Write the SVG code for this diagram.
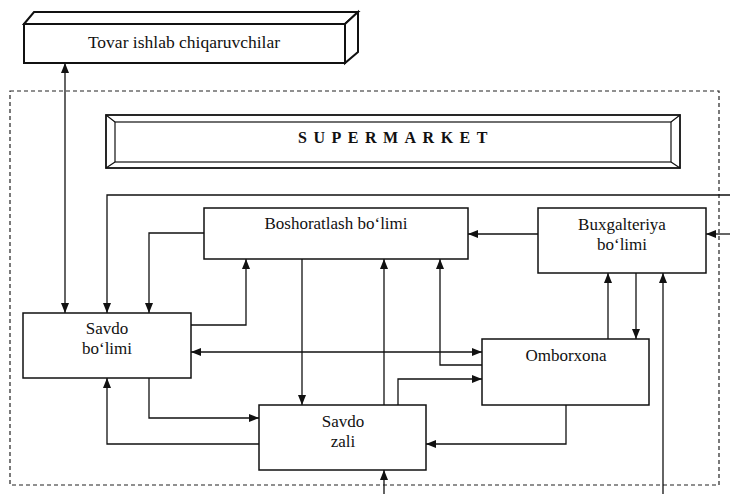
<svg xmlns="http://www.w3.org/2000/svg" width="730" height="494" viewBox="0 0 730 494">
<style>
  .box{fill:#fff;stroke:#111;stroke-width:1.5}
  .b3{fill:#fff;stroke:#111;stroke-width:2;stroke-linejoin:miter}
  .t{font-family:"Liberation Serif","Times New Roman",serif;font-size:17px;fill:#111;text-anchor:middle}
  .tv{font-size:17.5px}
  .sm{font-family:"Liberation Serif","Times New Roman",serif;font-size:16px;font-weight:bold;fill:#111;letter-spacing:6.5px}
  .c{fill:none;stroke:#111;stroke-width:1.3}
  .d{fill:none;stroke:#222;stroke-width:1.2;stroke-dasharray:4,3}
</style>
<defs>
  <marker id="ah" viewBox="0 0 10 8" refX="10" refY="4" markerWidth="10" markerHeight="8" markerUnits="userSpaceOnUse" orient="auto-start-reverse">
    <path d="M0,0 L10,4 L0,8 z" fill="#111"/>
  </marker>
</defs>
<rect width="730" height="494" fill="#fff"/>
<rect class="d" x="10" y="91" width="709" height="394"/>

<g id="tovar">
  <polygon class="b3" points="24,24 34,12 358,12 345,24"/>
  <polygon class="b3" points="345,24 358,12 358,52 345,63"/>
  <rect class="b3" x="24" y="24" width="321" height="39"/>
  <text class="t tv" x="184" y="48">Tovar ishlab chiqaruvchilar</text>
</g>

<g id="supermarket">
  <rect fill="#fff" stroke="#111" stroke-width="1.8" x="106" y="115" width="574" height="53"/>
  <rect fill="none" stroke="#111" stroke-width="1.2" x="115" y="122" width="556" height="40"/>
  <path d="M106,115 L115,122 M680,115 L671,122 M106,168 L115,162 M680,168 L671,162" stroke="#111" stroke-width="1.2"/>
  <text class="sm" x="298" y="143">SUPERMARKET</text>
</g>

<g id="boshoratlash">
  <rect class="box" x="204" y="208" width="264" height="51"/>
  <text class="t" x="336" y="229">Boshoratlash bo‘limi</text>
</g>

<g id="buxgalteriya">
  <rect class="box" x="538" y="208" width="168" height="65"/>
  <text class="t" x="622" y="230">Buxgalteriya</text>
  <text class="t" x="622" y="250">bo‘limi</text>
</g>

<g id="savdo-bolimi">
  <rect class="box" x="23" y="313" width="168" height="65"/>
  <text class="t" x="107" y="334">Savdo</text>
  <text class="t" x="107" y="354">bo‘limi</text>
</g>

<g id="omborxona">
  <rect class="box" x="482" y="339" width="167" height="66"/>
  <text class="t" x="566" y="361">Omborxona</text>
</g>

<g id="savdo-zali">
  <rect class="box" x="259" y="405" width="167" height="65"/>
  <text class="t" x="343" y="427">Savdo</text>
  <text class="t" x="343" y="447">zali</text>
</g>

<g id="connectors">
  <polyline class="c" points="65,63 65,313" marker-start="url(#ah)" marker-end="url(#ah)"/>
  <polyline class="c" points="730,195 107,195 107,313" marker-end="url(#ah)"/>
  <polyline class="c" points="204,233 149,233 149,313" marker-end="url(#ah)"/>
  <polyline class="c" points="191,325 246,325 246,259" marker-end="url(#ah)"/>
  <polyline class="c" points="191,352 482,352" marker-start="url(#ah)" marker-end="url(#ah)"/>
  <polyline class="c" points="149,378 149,418 259,418" marker-end="url(#ah)"/>
  <polyline class="c" points="259,444 107,444 107,378" marker-end="url(#ah)"/>
  <polyline class="c" points="302,259 302,405" marker-end="url(#ah)"/>
  <polyline class="c" points="384,405 384,259" marker-end="url(#ah)"/>
  <polyline class="c" points="398,405 398,379 482,379" marker-end="url(#ah)"/>
  <polyline class="c" points="482,365 440,365 440,259" marker-end="url(#ah)"/>
  <polyline class="c" points="566,405 566,444 426,444" marker-end="url(#ah)"/>
  <polyline class="c" points="608,339 608,273" marker-end="url(#ah)"/>
  <polyline class="c" points="636,273 636,339" marker-end="url(#ah)"/>
  <polyline class="c" points="663,494 663,273" marker-end="url(#ah)"/>
  <polyline class="c" points="730,234 706,234" marker-end="url(#ah)"/>
  <polyline class="c" points="538,234 468,234" marker-end="url(#ah)"/>
  <polyline class="c" points="384,494 384,470" marker-end="url(#ah)"/>
</g>
</svg>
